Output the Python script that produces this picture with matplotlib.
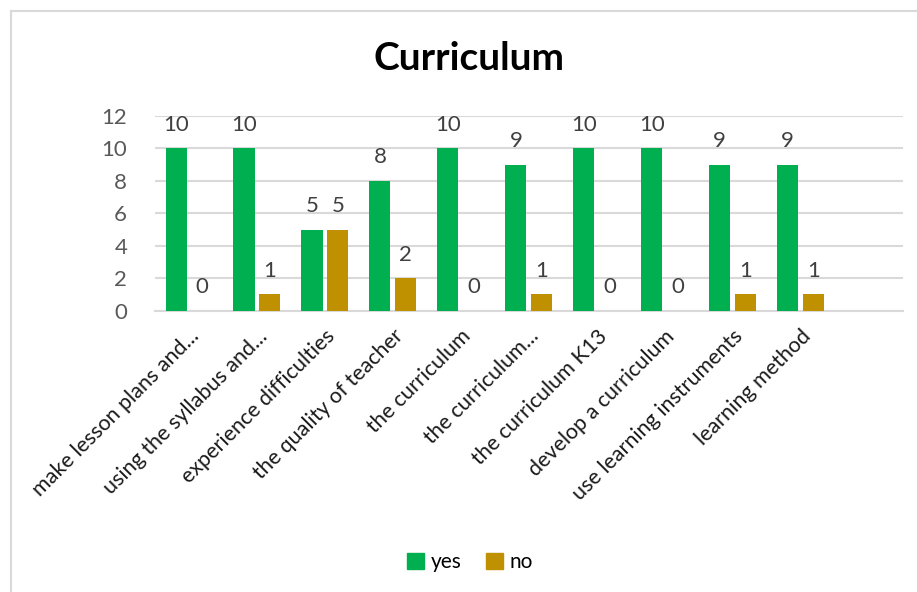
import matplotlib
matplotlib.use("Agg")
import matplotlib.pyplot as plt
import numpy as np
from matplotlib.lines import Line2D

plt.rcParams['font.family'] = ['Lato', 'DejaVu Sans']

categories = ["make lesson plans and...", "using the syllabus and...", "experience difficulties",
              "the quality of teacher", "the curriculum", "the curriculum...", "the curriculum K13",
              "develop a curriculum", "use learning instruments", "learning method"]
yes_vals = [10, 10, 5, 8, 10, 9, 10, 10, 9, 9]
no_vals = [0, 1, 5, 2, 0, 1, 0, 0, 1, 1]
yticks = [0, 2, 4, 6, 8, 10, 12]

green = "#00B050"
gold = "#BF9000"

W, H = 917, 592
fig = plt.figure(figsize=(W/100, H/100), dpi=100)
ax = fig.add_axes([155/W, 1-310.7/H, (902.5-155)/W, (310.7-116)/H])

x = np.arange(len(categories))
bw = 0.31
off = 0.19
ax.bar(x - off, yes_vals, bw, color=green, label="yes", zorder=3)
ax.bar(x + off, no_vals, bw, color=gold, label="no", zorder=3)

for xi, v in zip(x - off, yes_vals):
    ax.annotate(str(v), (xi, v), xytext=(0, 17), textcoords="offset points",
                ha="center", va="center", fontsize=16, color="#404040")
for xi, v in zip(x + off, no_vals):
    ax.annotate(str(v), (xi, v), xytext=(0, 17), textcoords="offset points",
                ha="center", va="center", fontsize=16, color="#404040")

ax.set_xlim(-0.5, 10.5)
ax.set_ylim(0, 12)
ax.set_yticks(yticks)
ax.set_yticklabels([str(t) for t in yticks], fontsize=16, color="#595959")
ax.yaxis.grid(True, color="#D9D9D9", linewidth=1.5, zorder=0)
ax.set_axisbelow(True)
ax.set_xticks(x)
ax.set_xticklabels(categories, rotation=45, ha="right", va="top",
                   rotation_mode="anchor", fontsize=15.5, color="#1a1a1a")
ax.tick_params(axis="both", length=0)
ax.tick_params(axis="y", pad=20)
ax.tick_params(axis="x", pad=11)
for s in ["top", "right", "left"]:
    ax.spines[s].set_visible(False)
ax.spines["bottom"].set_color("#D9D9D9")
ax.spines["bottom"].set_linewidth(1.5)

fig.text(469/W, 1-58/H, "Curriculum", ha="center", va="center",
         fontsize=28, fontweight="bold", color="black")

handles = [plt.Rectangle((0, 0), 1, 1, color=green), plt.Rectangle((0, 0), 1, 1, color=gold)]
fig.legend(handles, ["yes", "no"], loc="center", bbox_to_anchor=(470/W, 1-562/H),
           ncol=2, frameon=False, fontsize=15, handlelength=0.8, handleheight=0.8,
           handletextpad=0.3, columnspacing=1.2)

# chart border
fig.add_artist(Line2D([10.5/W, 1], [1-11/H, 1-11/H], color="#D9D9D9", linewidth=1.5, transform=fig.transFigure))
fig.add_artist(Line2D([10.5/W, 10.5/W], [0, 1-11/H], color="#D9D9D9", linewidth=1.5, transform=fig.transFigure))

fig.savefig("out.png", dpi=100)
